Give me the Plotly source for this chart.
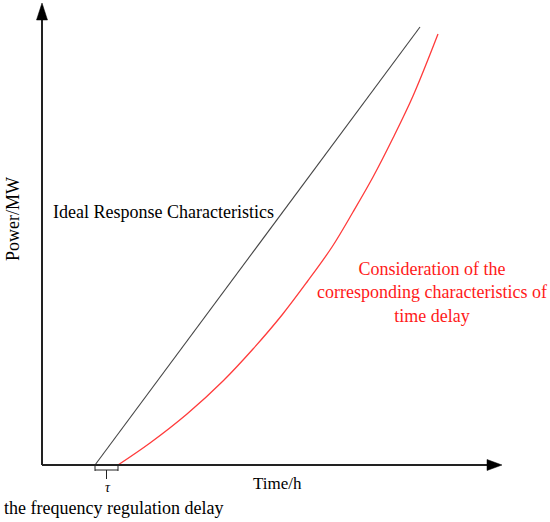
import plotly.graph_objects as go

# Data (time offset from origin, power above axis) in chart units
ideal_t = [53, 378]
ideal_p = [0, 438]
delay_t = [76, 108, 145, 181, 211, 240, 265, 290, 311, 331, 351, 371, 396]
delay_p = [0, 22, 51, 84, 116, 150, 183, 218, 253, 288, 327, 369, 431]
tau_start = 53
tau_end = 76

x_label = "Time/h"
y_label = "Power/MW"
ideal_label = "Ideal Response Characteristics"
delay_label = "Consideration of the<br>corresponding characteristics of<br>time delay"
tau_label = "τ"
delay_note = "the frequency regulation delay"

FONT = "Liberation Serif"
AX = "#222222"

fig = go.Figure()
fig.add_trace(go.Scatter(x=ideal_t, y=ideal_p, mode="lines",
                         line=dict(color="#444444", width=1.1), hoverinfo="skip"))
fig.add_trace(go.Scatter(x=delay_t, y=delay_p, mode="lines",
                         line=dict(color="#ff3b3b", width=1.3, shape="spline", smoothing=1.0),
                         hoverinfo="skip"))

shapes = []
# axes lines
shapes.append(dict(type="line", x0=0, y0=0, x1=0, y1=445, line=dict(color=AX, width=2)))
shapes.append(dict(type="line", x0=0, y0=0, x1=447, y1=0, line=dict(color=AX, width=2)))
# arrowheads
shapes.append(dict(type="path", path="M -5.5,445 L 5.5,445 L 0,462 Z",
                   fillcolor="black", line=dict(color="black", width=0.5)))
shapes.append(dict(type="path", path="M 445,5.5 L 445,-5.5 L 460,0 Z",
                   fillcolor="black", line=dict(color="black", width=0.5)))
# tau bracket
mid = (tau_start + tau_end) / 2
shapes.append(dict(type="line", x0=tau_start, y0=0, x1=tau_start, y1=-6, line=dict(color=AX, width=1)))
shapes.append(dict(type="line", x0=tau_end, y0=0, x1=tau_end, y1=-6, line=dict(color=AX, width=1)))
shapes.append(dict(type="line", x0=tau_start, y0=-5, x1=tau_end, y1=-5, line=dict(color=AX, width=1)))
shapes.append(dict(type="line", x0=mid, y0=-5, x1=mid, y1=-14, line=dict(color=AX, width=1)))

ann = []
ann.append(dict(x=121, y=253, text=ideal_label, showarrow=False,
                font=dict(family=FONT, size=18, color="black"), xanchor="center", yanchor="middle"))
ann.append(dict(x=390, y=173, text=delay_label, showarrow=False, align="center",
                font=dict(family=FONT, size=18, color="#ff1a1a"), xanchor="center", yanchor="middle"))
ann.append(dict(x=-29, y=246, text=y_label, showarrow=False, textangle=-90,
                font=dict(family=FONT, size=18, color="black"), xanchor="center", yanchor="middle"))
ann.append(dict(x=235, y=-18, text=x_label, showarrow=False,
                font=dict(family=FONT, size=17, color="black"), xanchor="center", yanchor="middle"))
ann.append(dict(x=mid + 1, y=-22, text="<i>" + tau_label + "</i>", showarrow=False,
                font=dict(family=FONT, size=14, color="black"), xanchor="center", yanchor="middle"))
ann.append(dict(x=-40, y=-43, text=delay_note, showarrow=False,
                font=dict(family=FONT, size=18, color="black"), xanchor="left", yanchor="middle"))

fig.update_layout(
    width=550, height=522,
    margin=dict(l=0, r=0, t=0, b=0),
    paper_bgcolor="white", plot_bgcolor="white",
    showlegend=False,
    shapes=shapes, annotations=ann,
    xaxis=dict(range=[-42, 508], visible=False, fixedrange=True),
    yaxis=dict(range=[-57, 465], visible=False, fixedrange=True),
)
fig.write_html("out.html",
               config={"displayModeBar": False, "staticPlot": True},
               post_script="document.body.style.margin='0';document.body.style.overflow='hidden';")
